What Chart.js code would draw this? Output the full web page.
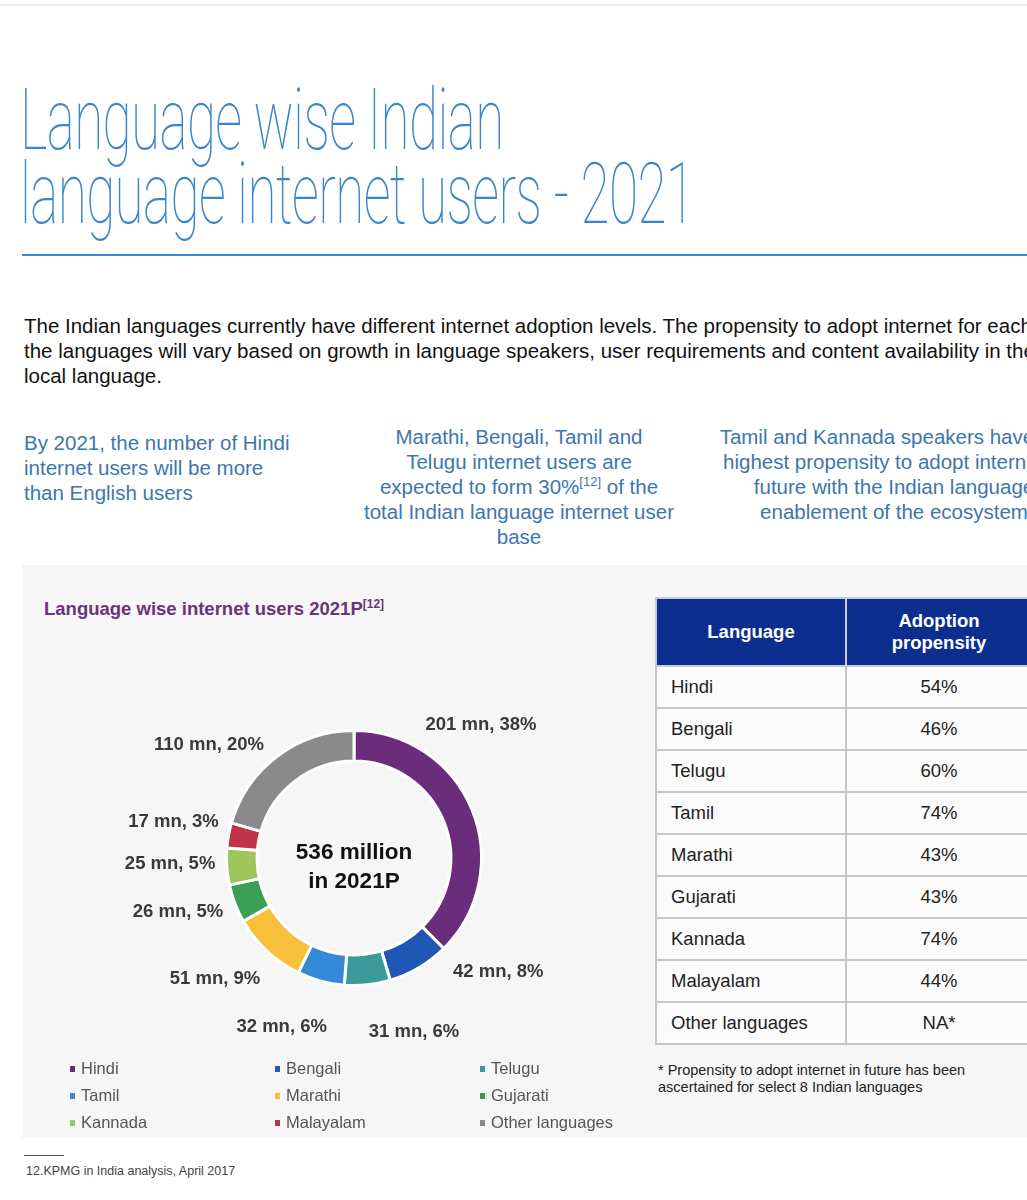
<!DOCTYPE html>
<html>
<head>
<meta charset="utf-8">
<script src="https://cdn.jsdelivr.net/npm/chart.js@4.4.1/dist/chart.umd.min.js"></script>
<style>
  html, body {
    margin: 0;
    padding: 0;
  }
  body {
    width: 1027px;
    height: 1200px;
    overflow: hidden;
    position: relative;
    background: #ffffff;
    font-family: "Liberation Sans", Arial, sans-serif;
  }
  .abs { position: absolute; }
  .topline {
    left: 0; top: 4px; width: 1027px; height: 2px; background: #ececec;
  }
  .title {
    left: 20px;
    font-family: Roboto, sans-serif;
    font-weight: 100;
    font-size: 86px;
    line-height: 66px;
    color: #3a86c8;
    white-space: nowrap;
    transform-origin: 0 0;
    transform: scaleX(0.617);
    letter-spacing: -1px;
  }
  .rule {
    left: 22px; top: 254px; width: 1005px; height: 2px; background: #3f8ad0;
  }
  .intro {
    left: 24px; top: 313px;
    font-size: 20.5px; line-height: 25px; color: #111;
    white-space: nowrap;
  }
  .blue {
    font-size: 20.5px; line-height: 25px; color: #3d76ae;
    white-space: nowrap;
  }
  .blue sup {
    font-size: 13px; line-height: 0; vertical-align: 0; position: relative; top: -8px;
  }
  .panel {
    left: 22px; top: 565px; width: 1005px; height: 573px; background: #f6f6f6;
  }
  .charttitle {
    left: 44px; top: 598px;
    font-size: 18.5px; font-weight: bold; color: #6a3477;
  }
  .charttitle sup { font-size: 12px; line-height: 0; }
  #chartWrap {
    left: 104px; top: 658px; width: 500px; height: 400px;
  }
  #legend {
    left: 70px; top: 1055px; width: 560px;
    display: grid;
    grid-template-columns: 205px 205px 150px;
    grid-auto-rows: 27px;
    font-size: 16.5px; color: #555;
  }
  #legend div { display: flex; align-items: center; }
  #legend span.box {
    display: inline-block; width: 5px; height: 6px; margin-right: 6px;
  }
  table {
    left: 655px; top: 597px; width: 378px;
    border-collapse: collapse;
    font-size: 18.5px; color: #222;
  }
  th {
    background: #0c2f8f; color: #fff; font-weight: bold;
    height: 66px; line-height: 22px; border: 2px solid #c9ccd6;
    padding: 0;
  }
  td {
    height: 40px; border: 2px solid #c6c6c6; background: #fbfbfb; padding: 0;
  }
  td.lang { padding-left: 14px; width: 174px; }
  td.val { text-align: center; }
  .note {
    left: 658px; top: 1062px; font-size: 14.5px; line-height: 17px; color: #222;
  }
  .fnrule { left: 24px; top: 1155px; width: 40px; height: 1px; background: #555; }
  .fn { left: 26px; top: 1164px; font-size: 12.5px; color: #444; }
</style>
</head>
<body>
<div class="abs topline"></div>
<div class="abs title" style="top:87px;">Language wise Indian</div>
<div class="abs title" style="top:161px;">language internet users - 2021</div>
<div class="abs rule"></div>

<div class="abs intro">The Indian languages currently have different internet adoption levels. The propensity to adopt internet for each of<br>the languages will vary based on growth in language speakers, user requirements and content availability in their<br>local language.</div>

<div class="abs blue" style="left:24px; top:430px;">By 2021, the number of Hindi<br>internet users will be more<br>than English users</div>
<div class="abs blue" style="left:339px; top:424px; width:360px; text-align:center;">Marathi, Bengali, Tamil and<br>Telugu internet users are<br>expected to form 30%<sup>[12]</sup> of the<br>total Indian language internet user<br>base</div>
<div class="abs blue" style="left:694px; top:424px; width:400px; text-align:center;">Tamil and Kannada speakers have the<br>highest propensity to adopt internet in<br>future with the Indian language<br>enablement of the ecosystem</div>

<div class="abs panel"></div>
<div class="abs charttitle">Language wise internet users 2021P<sup>[12]</sup></div>
<div class="abs" id="chartWrap"><canvas id="chart" width="500" height="400"></canvas></div>
<div class="abs" id="legend"></div>

<table class="abs" id="propTable">
  <thead>
    <tr><th>Language</th><th>Adoption<br>propensity</th></tr>
  </thead>
  <tbody id="tableBody"></tbody>
</table>
<div class="abs note">* Propensity to adopt internet in future has been<br>ascertained for select 8 Indian languages</div>

<div class="abs fnrule"></div>
<div class="abs fn">12.KPMG in India analysis, April 2017</div>

<script>
// Doughnut data (clockwise from 12 o'clock)
const languages = ["Hindi", "Bengali", "Telugu", "Tamil", "Marathi", "Gujarati", "Kannada", "Malayalam", "Other languages"];
const usersMn = [201, 42, 31, 32, 51, 26, 25, 17, 110];
const sharePct = [38, 8, 6, 6, 9, 5, 5, 3, 20];
const sliceColors = ["#6a2d7c", "#1f57b5", "#3d9a9a", "#358ad8", "#f8bf3a", "#3d9e56", "#9dc55c", "#bf3448", "#8a8a8a"];
const centerText = ["536 million", "in 2021P"];

// Table data
const tableLanguages = ["Hindi", "Bengali", "Telugu", "Tamil", "Marathi", "Gujarati", "Kannada", "Malayalam", "Other languages"];
const adoptionPropensity = ["54%", "46%", "60%", "74%", "43%", "43%", "74%", "44%", "NA*"];

// Fill the table
const tableBody = document.getElementById("tableBody");
for (let i = 0; i < tableLanguages.length; i++) {
  const row = document.createElement("tr");
  row.innerHTML = `<td class="lang">${tableLanguages[i]}</td><td class="val">${adoptionPropensity[i]}</td>`;
  tableBody.appendChild(row);
}

// Draws the "xx mn, yy%" labels around the ring and the text in the middle
const outsideLabels = {
  id: "outsideLabels",
  afterDatasetsDraw(chart, args, opts) {
    const ctx = chart.ctx;
    const arcs = chart.getDatasetMeta(0).data;
    ctx.save();
    ctx.font = "bold 18.5px 'Liberation Sans', Arial, sans-serif";
    ctx.fillStyle = "#3a3a3a";
    ctx.textAlign = "center";
    ctx.textBaseline = "middle";
    arcs.forEach((arc, i) => {
      const p = arc.getProps(["x", "y", "startAngle", "endAngle"], true);
      const mid = (p.startAngle + p.endAngle) / 2 + opts.nudgeDeg[i] * Math.PI / 180;
      const lx = p.x + Math.cos(mid) * opts.distance;
      const ly = p.y + Math.sin(mid) * opts.distance;
      ctx.fillText(`${usersMn[i]} mn, ${sharePct[i]}%`, lx, ly);
    });
    const c = arcs[0].getProps(["x", "y"], true);
    ctx.font = "bold 22.5px 'Liberation Sans', Arial, sans-serif";
    ctx.fillStyle = "#111";
    ctx.fillText(centerText[0], c.x, c.y - 5);
    ctx.fillText(centerText[1], c.x, c.y + 24);
    ctx.restore();
  }
};

const chart = new Chart(document.getElementById("chart").getContext("2d"), {
  type: "doughnut",
  data: {
    labels: languages,
    datasets: [{
      data: usersMn,
      backgroundColor: sliceColors,
      borderColor: "#ffffff",
      borderWidth: 3,
    }],
  },
  options: {
    responsive: false,
    animation: false,
    cutout: "76%",
    layout: { padding: { left: 121, right: 121, top: 71, bottom: 71 } },
    plugins: {
      legend: { display: false },
      tooltip: { enabled: false },
      outsideLabels: {
        distance: 184,
        nudgeDeg: [-24, -21, -13, 8, 6, 4, 2, 1, -15],
      },
    },
  },
  plugins: [outsideLabels],
});

// Legend built from the chart's own labels/colours, 3 per row
const legendEl = document.getElementById("legend");
chart.data.labels.forEach((label, i) => {
  const item = document.createElement("div");
  item.innerHTML = `<span class="box" style="background:${chart.data.datasets[0].backgroundColor[i]}"></span>${label}`;
  legendEl.appendChild(item);
});
</script>
</body>
</html>
